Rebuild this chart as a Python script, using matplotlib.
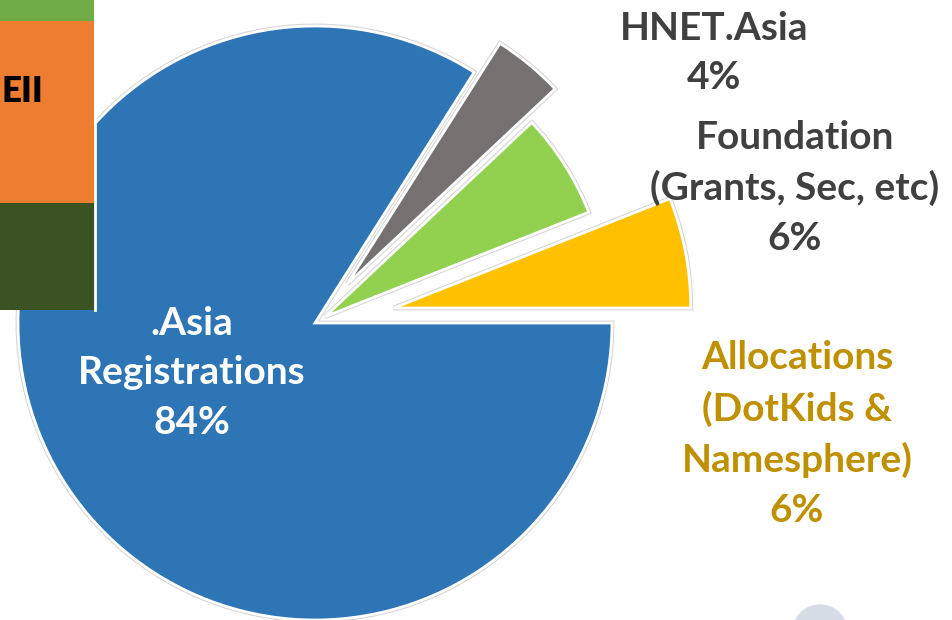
import matplotlib.pyplot as plt
from matplotlib.patches import Circle

W, H = 953, 620

# pie data (counterclockwise from 3 o'clock)
labels = [
    "Allocations\n(DotKids &\nNamesphere)\n6%",
    "Foundation\n(Grants, Sec, etc)\n6%",
    "HNET.Asia\n4%",
    ".Asia\nRegistrations\n84%",
]
shares = [6, 6, 4, 84]
colors = ["#FFC000", "#92D050", "#767171", "#2E75B6"]

# cropped stacked bar on the left (segments bottom -> top)
bar_values = [107, 182, 40]
bar_colors = ["#3B5323", "#ED7D31", "#70AD47"]
bar_text = "EII"

fig = plt.figure(figsize=(W / 100, H / 100), dpi=100)
ax = fig.add_axes([0, 0, 1, 1])

center = (315, H - 323)
radius = 297
# pie explode is an absolute offset in data units here
explode = [f * radius for f in (0.27, 0.04, 0.17, 0.0)]
# green and grey slices are drawn a bit smaller in the original
radius_scale = [1.0, 0.955, 0.96, 1.0]

# outline pass then white edge pass, gives the soft grey rim
for ec, lw in (("#d4d4d4", 3.5), ("white", 2)):
    wedges, _ = ax.pie(shares, colors=colors, explode=explode, startangle=0,
                       center=center, radius=radius,
                       wedgeprops=dict(edgecolor=ec, linewidth=lw))
    for w, s in zip(wedges, radius_scale):
        w.set_radius(radius * s)

# left bar fragment
bottom = H - 310
for v, c in zip(bar_values, bar_colors):
    ax.bar(47, v, width=94, bottom=bottom, color=c, edgecolor="none", zorder=5)
    bottom += v
ax.plot([95.5, 95.5], [H - 310, H], color="white", lw=2, zorder=5)
ax.text(1, H - 91, bar_text, ha="left", va="center", fontsize=25,
        fontweight="heavy", color="black", family="Lato", zorder=6)

# faint logo blob bottom right
ax.add_patch(Circle((820, H - 632), 27, color="#D6DCE5", zorder=1))

font = dict(family="Lato", fontweight="bold", fontsize=28, linespacing=1.5)
ax.text(192, H - 373, labels[3], ha="center", va="center", color="white", zorder=6, **font)
ax.text(714, H - 53, labels[2], ha="center", va="center", color="#404040", **font)
ax.text(795, H - 188, labels[1], ha="center", va="center", color="#404040", **font)
ax.text(797, H - 434, labels[0], ha="center", va="center", color="#BF9000", **font)

ax.set_xlim(0, W)
ax.set_ylim(0, H)
ax.set_aspect("equal")
ax.axis("off")

fig.savefig("out.png", dpi=100)
